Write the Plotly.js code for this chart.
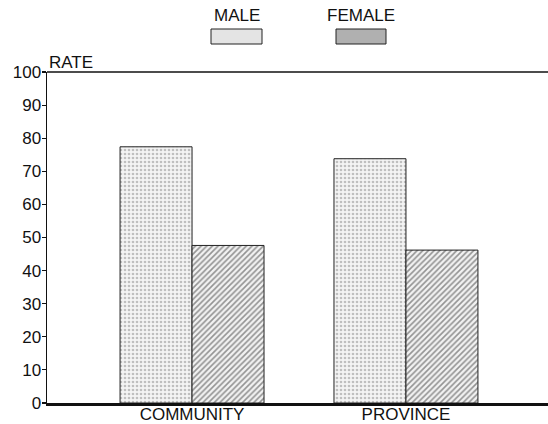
<!DOCTYPE html>
<html>
<head>
<meta charset="utf-8">
<script src="https://cdn.plot.ly/plotly-3.0.1.min.js"></script>
<style>html,body{margin:0;padding:0;background:#fff;}#chart{width:548px;height:424px;}</style>
</head>
<body>
<div id="chart"></div>
<script>
var categories = ["COMMUNITY", "PROVINCE"];
var maleValues = [77.4, 73.8];
var femaleValues = [47.6, 46.2];
var seriesNames = ["MALE", "FEMALE"];
var yTicks = [0, 10, 20, 30, 40, 50, 60, 70, 80, 90, 100];

var font = {family: "Liberation Sans, Arial, sans-serif", size: 17, color: "#111"};

var traces = [
  {
    type: "bar", name: seriesNames[0], x: categories, y: maleValues,
    marker: {
      color: "#ffffff",
      line: {color: "#222", width: 1},
      pattern: {shape: ".", size: 4, solidity: 0.35, fgcolor: "#8a8a8a", bgcolor: "#f4f4f4", fillmode: "overlay"}
    },
    showlegend: false, hoverinfo: "skip"
  },
  {
    type: "bar", name: seriesNames[1], x: categories, y: femaleValues,
    marker: {
      color: "#ffffff",
      line: {color: "#222", width: 1},
      pattern: {shape: "/", size: 4, solidity: 0.4, fgcolor: "#333", bgcolor: "#f2f2f2", fillmode: "overlay"}
    },
    showlegend: false, hoverinfo: "skip"
  }
];

var layout = {
  width: 548, height: 424,
  margin: {l: 47, r: 0, t: 72, b: 21, pad: 0},
  paper_bgcolor: "#fff", plot_bgcolor: "#fff",
  font: font,
  barmode: "group",
  bargap: 0.327,
  bargroupgap: 0,
  showlegend: false,
  xaxis: {
    range: [-0.678, 1.664],
    showline: true, linecolor: "#111", linewidth: 2.5,
    ticks: "", showgrid: false, zeroline: false,
    tickfont: font, fixedrange: true, ticklabelstandoff: -6
  },
  yaxis: {
    range: [0, 100], tickvals: yTicks, ticktext: yTicks.map(String),
    showline: true, linecolor: "#111", linewidth: 1.5,
    ticks: "outside", ticklen: 4, tickwidth: 1.2, tickcolor: "#111",
    showgrid: false, zeroline: false, tickfont: font, fixedrange: true,
    ticklabelstandoff: -3
  },
  shapes: [
    {type: "line", xref: "paper", yref: "paper", x0: 0, x1: 1, y0: 1, y1: 1, line: {color: "#111", width: 1.5}},
    {type: "rect", xref: "paper", yref: "paper", x0: (211 - 47) / 501, x1: (262 - 47) / 501, y0: (403 - 44) / 331, y1: (403 - 29) / 331,
     fillcolor: "#e4e4e4", line: {color: "#222", width: 1}},
    {type: "rect", xref: "paper", yref: "paper", x0: (336 - 47) / 501, x1: (386 - 47) / 501, y0: (403 - 44) / 331, y1: (403 - 29) / 331,
     fillcolor: "#b0b0b0", line: {color: "#222", width: 1}}
  ],
  annotations: [
    {text: "RATE", xref: "paper", yref: "paper", x: 0, y: 1, xanchor: "left", yanchor: "bottom", yshift: -2, showarrow: false, font: font},
    {text: seriesNames[0], xref: "paper", yref: "paper", x: (236.5 - 47) / 501, y: (403 - 15) / 331, xanchor: "center", yanchor: "middle", showarrow: false, font: font},
    {text: seriesNames[1], xref: "paper", yref: "paper", x: (361 - 47) / 501, y: (403 - 15) / 331, xanchor: "center", yanchor: "middle", showarrow: false, font: font}
  ]
};

Plotly.newPlot("chart", traces, layout, {staticPlot: true, displayModeBar: false});
</script>
</body>
</html>
